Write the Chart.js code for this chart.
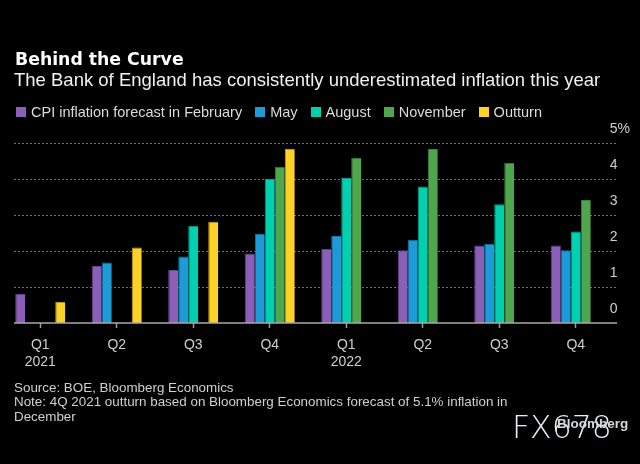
<!DOCTYPE html>
<html>
<head>
  <meta charset="utf-8" />
  <title>Behind the Curve</title>
  <style>
    html, body { margin: 0; padding: 0; background: #000; }
    #wrap { position: relative; width: 640px; height: 464px; overflow: hidden; background: #000; }
    #chart { position: absolute; left: 0; top: 0; }
    .txt { position: absolute; white-space: nowrap; font-family: "Liberation Sans", Arial, sans-serif; }
    #title { left: 15px; top: 51.3px; font: bold 17.3px/17px "DejaVu Sans", sans-serif; color: #fff; }
    #subtitle { left: 14px; top: 70.9px; font-size: 18.5px; line-height: 18px; color: #f0f0f0; }
    #legend { left: 16px; top: 104.8px; font-size: 14.5px; line-height: 15px; color: #dcdcdc; display: flex; }
    #legend .item { display: inline-flex; align-items: center; margin-right: 13px; }
    #legend .box { width: 10px; height: 10px; margin-right: 5px; }
    #footer { left: 14px; top: 380.6px; font-size: 13.4px; line-height: 14.7px; color: #d0d0d0; }
    #fx { left: 512px; top: 412.4px; font-size: 31.5px; line-height: 31.5px; color: #e6edf5; font-family: "DejaVu Sans", sans-serif; font-weight: 200; }
    #bbg { left: 557px; top: 416.6px; font-size: 13.5px; line-height: 13.5px; font-weight: bold; color: #d8d8d8; }
  </style>
</head>
<body>
<div id="wrap">
  <canvas id="chart" width="640" height="464"></canvas>
  <div class="txt" id="title">Behind the Curve</div>
  <div class="txt" id="subtitle">The Bank of England has consistently underestimated inflation this year</div>
  <div class="txt" id="legend"></div>
  <div class="txt" id="footer">Source: BOE, Bloomberg Economics<br>Note: 4Q 2021 outturn based on Bloomberg Economics forecast of 5.1% inflation in<br>December</div>
  <div class="txt" id="fx">FX678</div>
  <div class="txt" id="bbg">Bloomberg</div>
</div>

<script src="https://cdn.jsdelivr.net/npm/chart.js"></script>
<script>
  // data (CPI %, quarterly averages)
  var quarters = ['Q1', 'Q2', 'Q3', 'Q4', 'Q1', 'Q2', 'Q3', 'Q4'];
  var years = ['2021', '', '', '', '2022', '', '', ''];

  var febForecast = [0.81, 1.58, 1.47, 1.93, 2.06, 2.02, 2.15, 2.15];
  var mayForecast = [null, 1.68, 1.85, 2.48, 2.42, 2.31, 2.20, 2.02];
  var augForecast = [null, null, 2.70, 4.00, 4.03, 3.79, 3.30, 2.54];
  var novForecast = [null, null, null, 4.34, 4.59, 4.83, 4.45, 3.42];
  var outturn = [0.59, 2.10, 2.81, 4.84, null, null, null, null];

  var yTicks = [0, 1, 2, 3, 4, 5];

  var seriesNames = ['CPI inflation forecast in February', 'May', 'August', 'November', 'Outturn'];
  var seriesColors = ['#8b5fb8', '#1e9ad8', '#00d0b0', '#4fa64f', '#fdd126'];
  var edgeColors = ['#6a4590', '#1479ab', '#00a58a', '#3b843b', '#c9a51c'];

  var labels = quarters.map(function(q, i) {
    return years[i] ? [q, years[i]] : q;
  });

  var seriesData = [febForecast, mayForecast, augForecast, novForecast, outturn];
  var datasets = seriesData.map(function(d, i) {
    return {
      label: seriesNames[i],
      data: d,
      backgroundColor: seriesColors[i],
      borderColor: edgeColors[i],
      borderWidth: { left: 1, top: 1, right: 0, bottom: 0 },
      borderSkipped: false,
      categoryPercentage: 0.654,
      barPercentage: 1
    };
  });

  // html legend
  var legendEl = document.getElementById('legend');
  seriesNames.forEach(function(name, i) {
    var item = document.createElement('span');
    item.className = 'item';
    item.innerHTML = '<span class="box" style="background:' + seriesColors[i] + '"></span>' + name;
    legendEl.appendChild(item);
  });

  // dotted grid + baseline, from x=14 to 617 like the original
  var gridPlugin = {
    id: 'bbgGrid',
    beforeDatasetsDraw: function(chart) {
      var ctx = chart.ctx, y = chart.scales.y;
      ctx.save();
      ctx.strokeStyle = '#707070';
      ctx.lineWidth = 1;
      ctx.setLineDash([2, 2]);
      yTicks.forEach(function(v) {
        if (v === 0) return;
        var py = Math.round(y.getPixelForValue(v)) + 0.5;
        ctx.beginPath();
        ctx.moveTo(14, py);
        ctx.lineTo(617, py);
        ctx.stroke();
      });
      ctx.restore();
    },
    afterDatasetsDraw: function(chart) {
      var ctx = chart.ctx, y = chart.scales.y;
      var py = y.getPixelForValue(0);
      ctx.save();
      ctx.strokeStyle = '#a8a8a8';
      ctx.lineWidth = 1.5;
      ctx.beginPath();
      ctx.moveTo(14, py);
      ctx.lineTo(617, py);
      ctx.stroke();
      ctx.restore();
    }
  };

  var tickFont = { family: '"Liberation Sans", Arial, sans-serif', size: 14, lineHeight: 1.25 };

  var chart = new Chart(document.getElementById('chart').getContext('2d'), {
    type: 'bar',
    data: { labels: labels, datasets: datasets },
    plugins: [gridPlugin],
    options: {
      responsive: false,
      animation: false,
      layout: { padding: { left: 2, right: 0, top: 143, bottom: 81 } },
      plugins: {
        legend: { display: false },
        title: { display: false },
        tooltip: { enabled: false }
      },
      scales: {
        x: {
          grid: { display: true, offset: false, drawOnChartArea: false, drawTicks: true, tickLength: 5, tickColor: '#9a9a9a', tickWidth: 1.5 },
          border: { display: false },
          ticks: { color: '#cfcfcf', font: tickFont, padding: 8, maxRotation: 0, autoSkip: false },
          afterFit: function(scale) { scale.height = 60; }
        },
        y: {
          position: 'right',
          min: 0,
          max: 5,
          afterBuildTicks: function(scale) {
            scale.ticks = yTicks.map(function(v) { return { value: v }; });
          },
          grid: { display: false, drawTicks: false },
          border: { display: false },
          ticks: {
            color: '#cfcfcf',
            font: tickFont,
            mirror: true,
            crossAlign: 'far',
            padding: 16,
            labelOffset: -14,
            callback: function(v) { return v === 5 ? '5%' : v; }
          },
          afterFit: function(scale) { scale.width = 26; }
        }
      }
    }
  });
</script>
</body>
</html>
